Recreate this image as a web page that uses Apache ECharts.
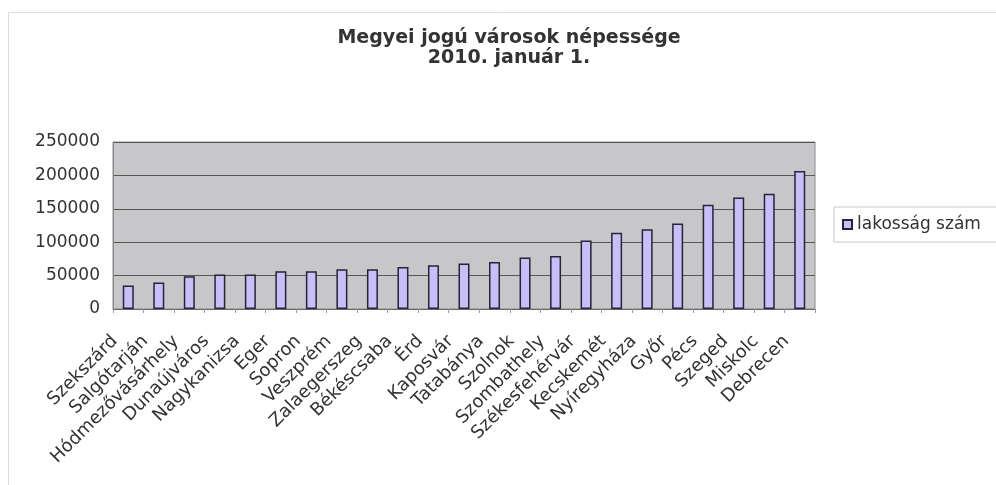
<!DOCTYPE html>
<html>
<head>
<meta charset="utf-8">
<script src="https://cdn.jsdelivr.net/npm/echarts@6/dist/echarts.min.js"></script>
<style>
  html, body { margin: 0; padding: 0; background: #fff; }
  #chart { width: 996px; height: 485px; }
</style>
</head>
<body>
<div id="chart"></div>
<script>
// megyei jogú városok lakossága
var cities = ['Szekszárd', 'Salgótarján', 'Hódmezővásárhely', 'Dunaújváros', 'Nagykanizsa',
    'Eger', 'Sopron', 'Veszprém', 'Zalaegerszeg', 'Békéscsaba', 'Érd', 'Kaposvár',
    'Tatabánya', 'Szolnok', 'Szombathely', 'Székesfehérvár', 'Kecskemét', 'Nyíregyháza',
    'Győr', 'Pécs', 'Szeged', 'Miskolc', 'Debrecen'];
var population = [35000, 39500, 49000, 51500, 51500, 56500, 56500, 59500, 59500, 63000,
    65500, 68000, 70500, 77000, 79500, 102500, 114000, 119500, 128000, 156000, 167000,
    172500, 206500];
var seriesName = 'lakosság szám';
var yMin = 0, yMax = 250000, yStep = 50000;

(function() {
    let chartDom = document.getElementById('chart');
    let myChart = echarts.init(chartDom);
    let font = 'DejaVu Sans';
    let option = {
        animation: false,
        textStyle: { fontFamily: font },
        title: {
            text: 'Megyei jogú városok népessége\n2010. január 1.',
            left: 509,
            top: 28,
            textAlign: 'center',
            padding: 0,
            textStyle: {
                fontFamily: font,
                fontWeight: 'bold',
                fontSize: 19,
                lineHeight: 20,
                color: '#333'
            }
        },
        legend: {
            left: 834,
            top: 207,
            orient: 'vertical',
            padding: [9, 40, 9, 8],
            borderColor: '#c8c8c8',
            borderWidth: 1,
            icon: 'rect',
            itemWidth: 9,
            itemHeight: 9,
            textStyle: { fontFamily: font, fontSize: 17, color: '#333' },
            data: [seriesName]
        },
        grid: {
            left: 113,
            right: 181,
            top: 142,
            bottom: 176,
            show: true,
            backgroundColor: '#c7c7c9',
            borderColor: '#8a8a8a',
            borderWidth: 1
        },
        xAxis: {
            type: 'category',
            data: cities,
            axisLine: { lineStyle: { color: '#666' } },
            axisTick: { show: true, length: 4, lineStyle: { color: '#999' } },
            axisLabel: {
                interval: 0,
                rotate: 45,
                margin: 16,
                padding: [0, 19, 0, 0],
                fontFamily: font,
                fontSize: 18,
                color: '#333'
            }
        },
        yAxis: {
            type: 'value',
            min: yMin,
            max: yMax,
            interval: yStep,
            axisLine: { show: true, lineStyle: { color: '#888' } },
            axisTick: { show: false },
            splitLine: { lineStyle: { color: '#555', width: 1 } },
            axisLabel: {
                margin: 13,
                fontFamily: font,
                fontSize: 17,
                color: '#333',
                formatter: function(v) { return String(v); }
            }
        },
        graphic: [{
            type: 'polyline',
            silent: true,
            z: -10,
            shape: { points: [[8.5, 700], [8.5, 12.5], [1200, 12.5]] },
            style: { fill: 'none', stroke: '#dcdcdc', lineWidth: 1 }
        }],
        series: [{
            name: seriesName,
            type: 'bar',
            barWidth: 11,
            data: population,
            itemStyle: {
                color: '#c9befa',
                borderColor: '#252535',
                borderWidth: 1.5
            }
        }]
    };
    myChart.setOption(option);
    window.addEventListener('resize', function() {
        myChart.resize();
    });
})();
</script>
</body>
</html>
